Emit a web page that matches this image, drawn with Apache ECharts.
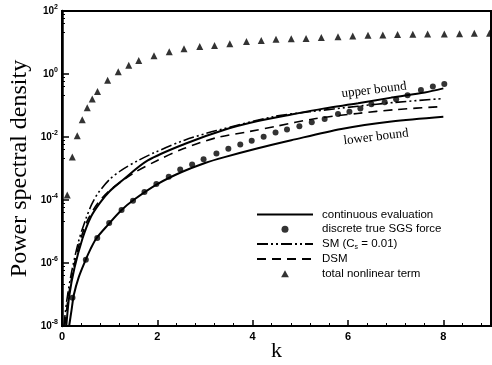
<!DOCTYPE html>
<html>
<head>
<meta charset="utf-8">
<script src="https://cdn.jsdelivr.net/npm/echarts@6/dist/echarts.min.js"></script>
<style>
  html, body { margin: 0; padding: 0; background: #fff; }
  #main { width: 492px; height: 365px; }
</style>
</head>
<body>
<div id="main"></div>
<script>
// continuous evaluation, upper bound
const upperK = [0.09, 0.155, 0.26, 0.43, 0.61, 0.8, 1.0, 1.25, 1.8, 2.57, 3.41, 4.11, 4.81, 5.51, 6.21, 6.91, 7.61, 8.0]
const upperVal = [1e-8, 9.5e-8, 6.8e-7, 6.0e-6, 3.0e-5, 8.3e-5, 1.9e-4, 4.0e-4, 1.8e-3, 6.0e-3, 1.7e-2, 3.2e-2, 5.2e-2, 8.1e-2, 0.117, 0.178, 0.26, 0.35]

// continuous evaluation, lower bound
const lowerK = [0.15, 0.2, 0.25, 0.35, 0.48, 0.6, 0.72, 0.96, 1.25, 1.5, 2.0, 2.5, 3.0, 3.41, 4.11, 4.81, 5.86, 6.91, 8.0]
const lowerVal = [1e-8, 3.2e-8, 1.0e-7, 3.5e-7, 1.1e-6, 2.8e-6, 6.0e-6, 1.6e-5, 4.8e-5, 1.0e-4, 3.2e-4, 7.6e-4, 1.5e-3, 2.3e-3, 4.4e-3, 7.9e-3, 1.8e-2, 3.1e-2, 4.4e-2]

// discrete true SGS force
const dotK = [0.22, 0.5, 0.74, 0.99, 1.25, 1.49, 1.73, 1.98, 2.24, 2.48, 2.73, 2.97, 3.24, 3.49, 3.74, 3.98, 4.23, 4.48, 4.72, 4.98, 5.24, 5.51, 5.79, 6.03, 6.26, 6.49, 6.77, 7.01, 7.25, 7.53, 7.78, 8.02]
const dotVal = [7.9e-8, 1.26e-6, 6.2e-6, 1.86e-5, 4.8e-5, 9.5e-5, 1.8e-4, 3.2e-4, 5.5e-4, 9.3e-4, 1.35e-3, 1.95e-3, 3.0e-3, 4.2e-3, 5.8e-3, 7.6e-3, 1.02e-2, 1.38e-2, 1.74e-2, 2.2e-2, 2.95e-2, 3.7e-2, 5.4e-2, 6.3e-2, 8.1e-2, 0.11, 0.126, 0.158, 0.21, 0.31, 0.40, 0.48]

// SM (Cs = 0.01)
const smK = [0.04, 0.1, 0.2, 0.35, 0.5, 0.62, 0.75, 1.0, 1.25, 1.6, 1.94, 2.57, 3.24, 4.46, 5.19, 6.21, 7.0, 8.0]
const smVal = [1e-8, 6.3e-8, 5.0e-7, 5.0e-6, 2.5e-5, 7.1e-5, 1.6e-4, 4.5e-4, 8.9e-4, 1.8e-3, 3.2e-3, 7.9e-3, 1.6e-2, 4.5e-2, 6.3e-2, 9.5e-2, 0.126, 0.166]

// DSM
const dsmK = [0.06, 0.13, 0.25, 0.4, 0.55, 0.75, 1.0, 1.5, 2.0, 2.54, 3.24, 3.94, 4.5, 5.3, 6.2, 7.0, 8.0]
const dsmVal = [1e-8, 7.9e-8, 7.9e-7, 6.3e-6, 2.5e-5, 7.9e-5, 2.0e-4, 7.1e-4, 1.8e-3, 4.2e-3, 9.5e-3, 1.5e-2, 2.2e-2, 3.8e-2, 5.6e-2, 7.4e-2, 9.3e-2]

// total nonlinear term
const triK = [0.11, 0.216, 0.32, 0.425, 0.53, 0.635, 0.745, 0.957, 1.18, 1.4, 1.61, 1.93, 2.25, 2.56, 2.89, 3.2, 3.52, 3.87, 4.18, 4.49, 4.81, 5.12, 5.44, 5.79, 6.1, 6.42, 6.73, 7.04, 7.36, 7.67, 8.02, 8.34, 8.65, 8.97]
const triVal = [1.45e-4, 2.3e-3, 1.1e-2, 3.5e-2, 8.5e-2, 0.16, 0.28, 0.63, 1.17, 1.9, 2.7, 3.8, 5.1, 6.3, 7.4, 8.1, 9.1, 10.7, 11.5, 12.6, 13.2, 13.5, 14.5, 15.1, 16.2, 17.0, 17.4, 17.8, 18.2, 18.6, 18.6, 19.1, 19.5, 19.5]

const xTicks = [0, 2, 4, 6, 8]
const legendNames = ['continuous evaluation', 'discrete true SGS force', 'SM (Cs = 0.01)', 'DSM', 'total nonlinear term']

const pairs = (ks, vs) => ks.map((k, i) => [k, vs[i]])

const main = document.getElementById('main')
const myChart = echarts.init(main, null, { renderer: 'canvas' })

const sans = '"Liberation Sans", Arial, sans-serif'
const serif = '"Liberation Serif", "Times New Roman", serif'
const triangleIcon = 'path://M5,0L10,9L0,9Z'

// line items: hide the symbol echarts puts in the middle of a line icon
const legendData = legendNames.map(name => {
  if (name === 'discrete true SGS force') return { name: name }
  if (name === 'total nonlinear term') return { name: name, icon: triangleIcon }
  return { name: name, itemStyle: { opacity: 0 } }
})

myChart.setOption({
  animation: false,
  grid: {
    left: 62, right: 1, top: 11, bottom: 39,
    outerBoundsMode: 'none',
    containLabel: false,
    show: true, borderColor: '#000', borderWidth: 2
  },
  legend: {
    data: legendData,
    orient: 'vertical',
    left: 251,
    top: 203,
    padding: 5,
    itemWidth: 56,
    itemHeight: 7,
    itemGap: 1.8,
    textStyle: {
      fontFamily: sans, fontSize: 11.5, color: '#000', lineHeight: 13, padding: [0, 0, 0, 4],
      rich: { sub: { fontFamily: sans, fontSize: 7, color: '#000', padding: [6, 0, 0, 0] } }
    },
    formatter: name => name === 'SM (Cs = 0.01)' ? 'SM (C{sub|s} = 0.01)' : name
  },
  xAxis: {
    type: 'value',
    min: 0, max: 9, interval: 2,
    name: 'k',
    nameLocation: 'middle',
    nameMoveOverlap: false,
    nameGap: 14,
    nameTextStyle: { fontFamily: serif, fontSize: 22, color: '#000' },
    axisLine: { lineStyle: { color: '#000', width: 2 } },
    axisTick: { inside: true, length: 6, lineStyle: { color: '#000', width: 1.5 } },
    minorTick: { show: true, splitNumber: 5, length: 3, lineStyle: { color: '#000', width: 1 } },
    axisLabel: {
      showMaxLabel: false,
      margin: 5, fontFamily: sans, fontWeight: 'bold', fontSize: 11, color: '#000',
      formatter: v => xTicks.includes(v) ? String(v) : ''
    },
    splitLine: { show: false }
  },
  yAxis: {
    type: 'log',
    logBase: 10,
    min: 1e-8, max: 1e2, interval: 2,
    name: 'Power spectral density',
    nameLocation: 'middle',
    nameMoveOverlap: false,
    nameGap: 30,
    nameTextStyle: { fontFamily: serif, fontSize: 24, color: '#000' },
    axisLine: { show: true, lineStyle: { color: '#000', width: 2.5 } },
    axisTick: { inside: true, length: 7, lineStyle: { color: '#000', width: 1.5 } },
    minorTick: { show: true, splitNumber: 5, length: 3, lineStyle: { color: '#000', width: 1 } },
    axisLabel: {
      margin: 4,
      formatter: v => '{b|10}{s|' + Math.round(Math.log10(v)) + '}',
      rich: {
        b: { fontFamily: sans, fontWeight: 'bold', fontSize: 10, color: '#000' },
        s: { fontFamily: sans, fontWeight: 'bold', fontSize: 7, color: '#000', padding: [0, 0, 7, 0] }
      }
    },
    splitLine: { show: false }
  },
  graphic: [
    {
      type: 'text', x: 374, y: 90, rotation: 0.12,
      style: { text: 'upper bound', font: '13px ' + serif, fill: '#000', textAlign: 'center', textVerticalAlign: 'middle', align: 'center', verticalAlign: 'middle' }
    },
    {
      type: 'text', x: 376, y: 137, rotation: 0.12,
      style: { text: 'lower bound', font: '13px ' + serif, fill: '#000', textAlign: 'center', textVerticalAlign: 'middle', align: 'center', verticalAlign: 'middle' }
    }
  ],
  series: [
    {
      name: 'continuous evaluation',
      type: 'line',
      data: pairs(upperK, upperVal),
      symbol: 'none',
      smooth: 0.3,
      lineStyle: { color: '#000', width: 2 },
      itemStyle: { color: '#000' }
    },
    {
      name: 'continuous evaluation',
      type: 'line',
      data: pairs(lowerK, lowerVal),
      symbol: 'none',
      smooth: 0.3,
      lineStyle: { color: '#000', width: 2 },
      itemStyle: { color: '#000' }
    },
    {
      name: 'discrete true SGS force',
      type: 'scatter',
      data: pairs(dotK, dotVal),
      symbol: 'circle',
      symbolSize: 6,
      itemStyle: { color: '#000' }
    },
    {
      name: 'SM (Cs = 0.01)',
      type: 'line',
      data: pairs(smK, smVal),
      symbol: 'none',
      smooth: 0.3,
      lineStyle: { color: '#000', width: 1.6, type: [11, 3, 2, 3, 2, 3] },
      itemStyle: { color: '#000' }
    },
    {
      name: 'DSM',
      type: 'line',
      data: pairs(dsmK, dsmVal),
      symbol: 'none',
      smooth: 0.3,
      lineStyle: { color: '#000', width: 1.6, type: [9, 6] },
      itemStyle: { color: '#000' }
    },
    {
      name: 'total nonlinear term',
      type: 'scatter',
      data: pairs(triK, triVal),
      symbol: 'triangle',
      symbolSize: 7,
      itemStyle: { color: '#000' }
    }
  ]
})
</script>
</body>
</html>
